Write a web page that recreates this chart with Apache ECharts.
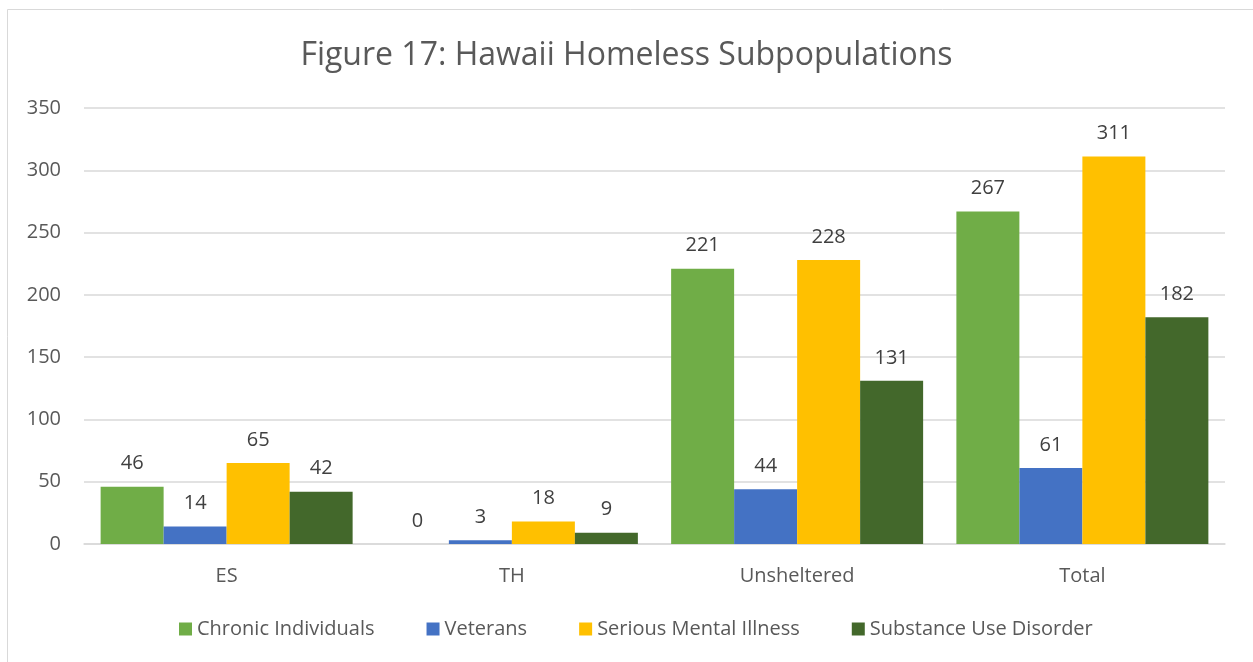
<!DOCTYPE html>
<html>
<head>
<meta charset="utf-8">
<script src="https://cdn.jsdelivr.net/npm/echarts@6/dist/echarts.min.js"></script>
<style>
  html, body { margin: 0; padding: 0; background: #fff; }
  #chart { width: 1253px; height: 662px; }
</style>
</head>
<body>
<div id="chart"></div>
<script>
const categories = ['ES', 'TH', 'Unsheltered', 'Total'];
const chronicIndividuals = [46, 0, 221, 267];
const veterans = [14, 3, 44, 61];
const seriousMentalIllness = [65, 18, 228, 311];
const substanceUseDisorder = [42, 9, 131, 182];

const fontFamily = '"Open Sans", "Liberation Sans", sans-serif';

function barSeries(name, data, color) {
  return {
    name: name,
    type: 'bar',
    data: data,
    barWidth: 63,
    barGap: '0%',
    itemStyle: { color: color },
    label: {
      show: true,
      position: 'top',
      distance: 13,
      color: '#404040',
      fontSize: 20,
      fontFamily: fontFamily
    }
  };
}

const chart = echarts.init(document.getElementById('chart'));
chart.setOption({
  backgroundColor: '#fff',
  animation: false,
  title: {
    text: 'Figure 17: Hawaii Homeless Subpopulations',
    left: 'center',
    top: 35,
    textStyle: {
      color: '#595959',
      fontSize: 32,
      fontWeight: 'normal',
      fontFamily: fontFamily
    }
  },
  graphic: [{
    type: 'rect',
    shape: { x: 7.5, y: 9.5, width: 1260, height: 670 },
    style: { fill: 'none', stroke: '#d9d9d9', lineWidth: 1 },
    silent: true
  }],
  legend: {
    bottom: 18,
    left: 174,
    itemWidth: 13,
    itemHeight: 13,
    itemGap: 52,
    icon: 'rect',
    textStyle: { color: '#595959', fontSize: 20, fontFamily: fontFamily }
  },
  grid: { left: 84, right: 28, top: 108, bottom: 118 },
  xAxis: {
    type: 'category',
    data: categories,
    axisTick: { show: false },
    axisLine: { lineStyle: { color: '#d9d9d9', width: 1.5 } },
    axisLabel: { color: '#595959', fontSize: 20, margin: 22, fontFamily: fontFamily }
  },
  yAxis: {
    type: 'value',
    min: 0,
    max: 350,
    interval: 50,
    axisLine: { show: false },
    axisTick: { show: false },
    splitLine: { lineStyle: { color: '#d9d9d9', width: 1.5 } },
    axisLabel: { color: '#595959', fontSize: 20, margin: 23, fontFamily: fontFamily }
  },
  series: [
    barSeries('Chronic Individuals', chronicIndividuals, '#70AD47'),
    barSeries('Veterans', veterans, '#4472C4'),
    barSeries('Serious Mental Illness', seriousMentalIllness, '#FFC000'),
    barSeries('Substance Use Disorder', substanceUseDisorder, '#43682B')
  ]
});
</script>
</body>
</html>
